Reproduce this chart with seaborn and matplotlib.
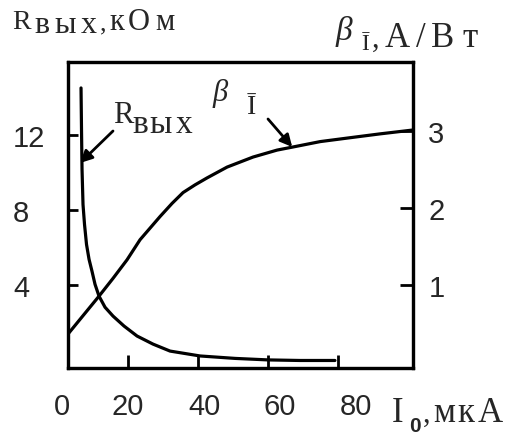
import matplotlib
matplotlib.use("Agg")
import matplotlib.pyplot as plt
import matplotlib.transforms as mtransforms
import pandas as pd
import seaborn as sns

# Output resistance R_вых (kOhm) versus bias current I0 (uA)
r_current = [6.57, 6.71, 6.86, 7.14, 7.57, 8.14, 8.86, 9.71, 10.57, 11.71, 13.43, 15.71,
             18.86, 22.57, 27.14, 32.0, 40.57, 50.6, 60.0, 69.1, 79.1]
r_out = [14.49, 12.26, 10.15, 8.29, 7.23, 6.17, 5.38, 4.74, 4.05, 3.42, 2.83, 2.36,
         1.83, 1.30, 0.87, 0.50, 0.24, 0.11, 0.03, 0.0, 0.0]

# Current sensitivity beta (A/W) versus bias current I0 (uA)
beta_current = [2.86, 6.29, 11.71, 15.71, 19.71, 23.43, 29.14, 32.57, 35.71, 39.14, 42.57,
                48.29, 55.71, 62.57, 67.1, 74.9, 83.4, 92.0, 101.4]
beta_val = [0.37, 0.56, 0.86, 1.09, 1.33, 1.59, 1.89, 2.06, 2.20, 2.30, 2.39,
            2.53, 2.66, 2.75, 2.79, 2.86, 2.91, 2.96, 3.01]

x_ticks = [20, 40, 60, 80]
x_tick_labels = ["0", "20", "40", "60", "80"]
r_ticks = [4, 8, 12]
r_tick_labels = ["4", "8", "12"]
beta_ticks = [1, 2, 3]
beta_tick_labels = ["1", "2", "3"]

W, H = 506, 435
sns.set_theme(style="ticks")
plt.rcParams["font.family"] = ["Liberation Serif", "DejaVu Serif"]

fig = plt.figure(figsize=(W / 100, H / 100), dpi=100)
fig.patch.set_facecolor("white")
ax = fig.add_axes([68 / W, 1 - 369 / H, (413 - 68) / W, (369 - 63) / H])
ax2 = ax.twinx()

r_df = pd.DataFrame({"I0": r_current, "R": r_out})
b_df = pd.DataFrame({"I0": beta_current, "beta": beta_val})
sns.lineplot(data=r_df, x="I0", y="R", ax=ax, color="black", lw=2.3, sort=False)
sns.lineplot(data=b_df, x="I0", y="beta", ax=ax2, color="black", lw=2.3, sort=False)

ax.set_xlim(2.85, 101.4)
ax.set_ylim(-0.4, 15.87)
ax2.set_ylim(-0.07, 3.89)

tick_font = dict(family="Liberation Sans", size=21)
for a in (ax, ax2):
    a.set_xlabel("")
    a.set_ylabel("")
    a.set_facecolor("none")
    for s in a.spines.values():
        s.set_linewidth(2.3)
        s.set_color("black")
        s.set_visible(True)
    a.grid(False)

ax.set_xticks(x_ticks)
ax.set_xticklabels([])
ax.tick_params(axis="x", direction="in", length=9.5, width=2, color="black", bottom=True)
ax.set_yticks(r_ticks)
ax.set_yticklabels(r_tick_labels, fontdict=tick_font, ha="left")
ax.tick_params(axis="y", direction="in", length=7, width=2, color="black", pad=39.5, left=True)
ax2.set_yticks(beta_ticks)
ax2.set_yticklabels(beta_tick_labels, fontdict=tick_font)
ax2.tick_params(axis="y", direction="in", length=9.5, width=2, color="black", pad=11, right=True)

# x tick labels sit slightly apart from the marks
x_label_pos = [1.1, 20.0, 41.7, 63.4, 85.1]
blend = mtransforms.blended_transform_factory(ax.transData, ax.transAxes)
for pos, lab in zip(x_label_pos, x_tick_labels):
    ax.text(pos, -0.08, lab, transform=blend, ha="center", va="top", clip_on=False, **tick_font)


def fpx(x, y):
    return x / W, 1 - y / H


def spaced(chars, xs, y, **kw):
    """Letter-spaced caption: one glyph per centre position (pixels)."""
    for ch, x in zip(chars, xs):
        fig.text(*fpx(x, y), ch, ha="center", va="baseline", **kw)


serif = "Liberation Serif"
# left axis title: R_вых, кОм
fig.text(*fpx(12, 29), "R", family=serif, size=20)
spaced("вых", [42, 65, 89], 33, family=serif, size=23)
spaced(",", [103], 30, family=serif, size=19)
spaced("кОм", [117, 139, 165], 30, family=serif, size=22)

# right axis title: beta_I, А/Вт
fig.text(*fpx(336, 40), "β", family=serif, style="italic", size=24)
fig.text(*fpx(362, 50), "Ī", family=serif, size=17)
spaced(",", [376], 47, family=serif, size=22)
spaced("А/Вт", [397, 421, 443, 470], 47, family=serif, size=25)

# x axis title: I_0, мкА
fig.text(*fpx(392, 422), "I", family=serif, size=25)
fig.text(*fpx(409, 432), "0", family="Liberation Sans", weight="bold", size=15)
spaced(",", [427], 422, family=serif, size=22)
spaced("мкА", [444, 466, 490], 422, family=serif, size=25)

# curve labels with arrows
fig.text(*fpx(113, 123), "R", family=serif, size=22)
spaced("вых", [140, 161, 184], 133, family=serif, size=24)
ax.annotate("", xy=(6.3, 10.5), xytext=fpx(113, 132), textcoords="figure fraction",
            arrowprops=dict(arrowstyle="-|>", color="black", lw=2, mutation_scale=18,
                            shrinkA=0, shrinkB=0))

fig.text(*fpx(212, 101), "β", family=serif, style="italic", size=22)
fig.text(*fpx(247, 114), "Ī", family=serif, size=20)
ax2.annotate("", xy=(66.9, 2.79), xytext=fpx(268, 120), textcoords="figure fraction",
             arrowprops=dict(arrowstyle="-|>", color="black", lw=2, mutation_scale=18,
                             shrinkA=0, shrinkB=0))

fig.savefig("out.png", dpi=100, facecolor="white")
